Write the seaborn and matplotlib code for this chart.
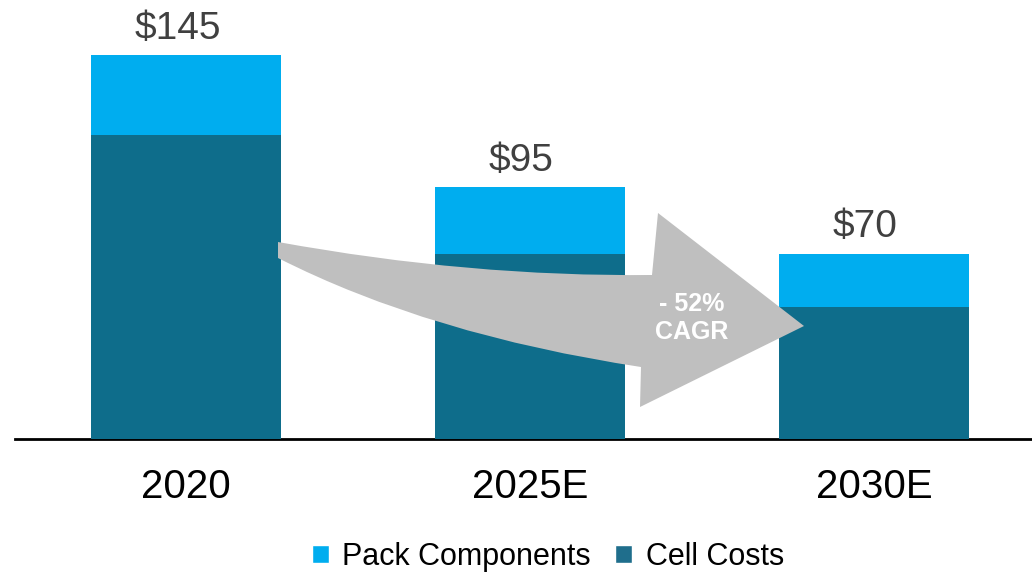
import numpy as np
import pandas as pd
import matplotlib
matplotlib.use("Agg")
import matplotlib.pyplot as plt
import seaborn as sns
from matplotlib.patches import Patch, PathPatch
from matplotlib.path import Path

# data ($/kWh)
years = ["2020", "2025E", "2030E"]
cell_costs = [115, 70, 50]
pack_components = [30, 25, 20]
total_labels = ["$145", "$95", "$70"]

pack_color = "#00ADEF"
cell_color = "#0E6D8B"

df = pd.DataFrame({"year": years, "cell": cell_costs, "pack": pack_components})
df["total"] = df["cell"] + df["pack"]

sns.set_style("white")
plt.rcParams["font.family"] = ["Liberation Sans", "DejaVu Sans"]

fig = plt.figure(figsize=(10.32, 5.76), dpi=100)
ax = fig.add_axes([15 / 1032, 1 - 439 / 576, 1 - 15 / 1032, 439 / 576])

# stacked bars: total in light blue, cells over it in dark teal
sns.barplot(data=df, x="year", y="total", color=pack_color, width=0.552,
            saturation=1, linewidth=0, ax=ax, zorder=2)
sns.barplot(data=df, x="year", y="cell", color=cell_color, width=0.552,
            saturation=1, linewidth=0, ax=ax, zorder=3)

ax.set_xlim(-0.497, 2.459)
ax.set_ylim(0, 165.8)

# total labels above the bars
for i, (tot, lab) in enumerate(zip(df["total"], total_labels)):
    ax.text(i - 0.025, tot + 3.2, lab, ha="center", va="bottom",
            fontsize=28, color="#404040")

# axis cosmetics
for side in ["top", "right", "left"]:
    ax.spines[side].set_visible(False)
ax.spines["bottom"].set_color("black")
ax.spines["bottom"].set_linewidth(2)
ax.set_yticks([])
ax.set_xlabel("")
ax.set_ylabel("")
ax.tick_params(axis="x", length=0, pad=21, labelsize=29, labelcolor="black")


# curved CAGR arrow, drawn in figure pixels
def fp(x, y):
    return (x / 1032, 1 - y / 576)


verts = [fp(278, 242), fp(470, 277), fp(652, 275),
         fp(658, 213), fp(804, 326), fp(640, 407),
         fp(641, 367), fp(430, 335), fp(278, 258),
         fp(278, 242)]
codes = [Path.MOVETO, Path.CURVE3, Path.CURVE3,
         Path.LINETO, Path.LINETO, Path.LINETO,
         Path.LINETO, Path.CURVE3, Path.CURVE3,
         Path.CLOSEPOLY]
arrow = PathPatch(Path(verts, codes), facecolor="#BFBFBF", edgecolor="none",
                  transform=fig.transFigure, zorder=5)
fig.patches.append(arrow)

fig.text(*fp(692, 304), "- 52%", ha="center", va="center", color="white",
         fontsize=18, fontweight="bold", zorder=6)
fig.text(*fp(692, 332), "CAGR", ha="center", va="center", color="white",
         fontsize=18, fontweight="bold", zorder=6)

# legend
handles = [Patch(facecolor=pack_color, label="Pack Components"),
           Patch(facecolor="#1F6E8C", label="Cell Costs")]
fig.legend(handles=handles, loc="center", bbox_to_anchor=fp(548, 557),
           ncol=2, frameon=False, fontsize=22, handlelength=0.55,
           handleheight=0.55, handletextpad=0.45, columnspacing=0.8,
           labelcolor="black")

fig.savefig("out.png", dpi=100)
